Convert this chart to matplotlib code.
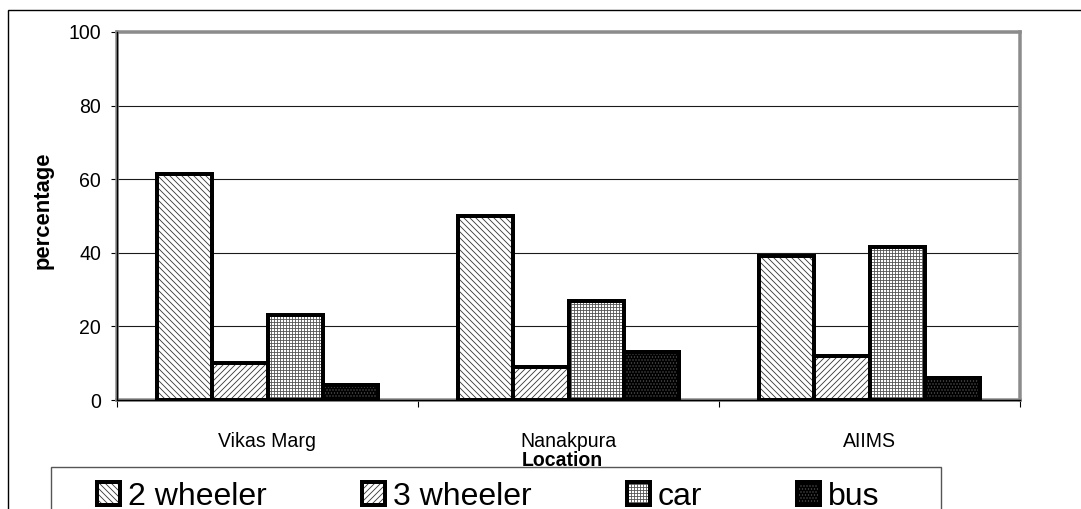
import numpy as np
import matplotlib
matplotlib.use("Agg")
import matplotlib.pyplot as plt
from matplotlib.patches import Rectangle
from matplotlib.legend_handler import HandlerTuple

# Vehicle mix (%) observed at each location
locations = ["Vikas Marg", "Nanakpura", "AIIMS"]
series_names = ["2 wheeler", "3 wheeler", "car", "bus"]
two_wheeler = [61.5, 50, 39]
three_wheeler = [10, 9, 12]
car = [23, 27, 41.5]
bus = [4, 13, 6]
y_ticks = [0, 20, 40, 60, 80, 100]

# at 72 dpi one point is one pixel, so all sizes below are in pixels
DPI = 72
plt.rcParams["font.family"] = ["Liberation Sans", "DejaVu Sans"]
plt.rcParams["hatch.linewidth"] = 0.85

W, H = 1081, 509
fig = plt.figure(figsize=(W / DPI, H / DPI), dpi=DPI)
ax = fig.add_axes([117 / W, 109 / H, 903 / W, 368 / H])

# fill style per series: (face, hatch colour, hatch)
styles = [
    ("white", "#3a3a3a", "\\\\\\\\"),
    ("white", "#3a3a3a", "////"),
    ("white", "#555555", "++++"),
    ("black", "#505050", "...."),
]

values = [two_wheeler, three_wheeler, car, bus]
x = np.arange(len(locations))
width = 0.184
handles = []
for i, (vals, (face, hcol, hatch)) in enumerate(zip(values, styles)):
    pos = x + (i - 1.5) * width
    fill = ax.bar(pos, vals, width, facecolor=face, edgecolor=hcol,
                  hatch=hatch, linewidth=0, zorder=2)
    outline = ax.bar(pos, vals, width, facecolor="none", edgecolor="black",
                     linewidth=4, zorder=3)
    handles.append((fill, outline))

ax.set_xlim(-0.5, 2.5)
ax.set_ylim(0, 100)

ax.set_yticks(y_ticks)
ax.yaxis.grid(True, color="#1a1a1a", linewidth=1.1, zorder=1)
ax.set_axisbelow(True)
ax.tick_params(axis="y", direction="out", length=6.5, width=1.1,
               color="black", labelsize=19.5, pad=9.5)

ax.set_xticks(x)
ax.set_xticklabels(locations)
ax.set_xticks(np.arange(-0.5, 3.0, 1.0), minor=True)
ax.tick_params(axis="x", which="major", length=0, labelsize=19.5, pad=32)
ax.tick_params(axis="x", which="minor", direction="out", length=6.5,
               width=1.1, color="black")

for sp in ax.spines.values():
    sp.set_color("#8c8c8c")
    sp.set_linewidth(3.5)
ax.axhline(0, color="black", linewidth=1.4, zorder=4, clip_on=False)
ax.axvline(-0.5, color="black", linewidth=1.4, zorder=4, clip_on=False)

ax.set_ylabel("percentage", fontsize=22, fontweight="bold")
ax.yaxis.set_label_coords((54 - 117) / 903, (400 - 210) / 368)
ax.set_xlabel("Location", fontsize=19.5, fontweight="bold")
ax.xaxis.set_label_coords((562 - 117) / 903, (400 - 451) / 368)

# outer chart frame
fig.add_artist(Rectangle((8 / W, -0.2), 1.5, (H - 10) / H + 0.2,
                         transform=fig.transFigure, facecolor="none",
                         edgecolor="black", linewidth=1.4, zorder=0))
# legend box
fig.add_artist(Rectangle((51 / W, -0.2), (941 - 51) / W, (H - 467) / H + 0.2,
                         transform=fig.transFigure, facecolor="white",
                         edgecolor="#555555", linewidth=1.4, zorder=3))

fig.legend(handles, series_names, loc="upper left",
           bbox_to_anchor=(97 / W, (H - 482) / H), ncol=4, frameon=False,
           fontsize=32, handlelength=0.72, handleheight=0.72,
           handletextpad=0.25, columnspacing=2.97, borderpad=0,
           borderaxespad=0,
           handler_map={tuple: HandlerTuple(ndivide=1, pad=0)}).set_zorder(5)

fig.savefig("out.png", dpi=DPI)
